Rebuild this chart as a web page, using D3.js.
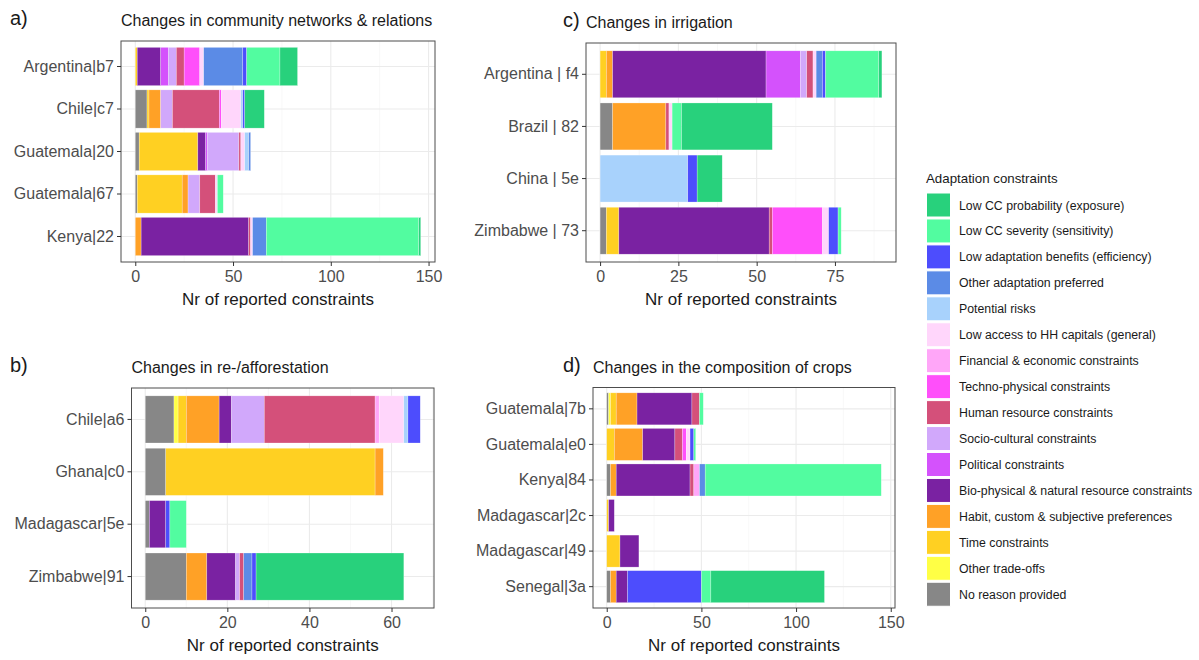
<!DOCTYPE html>
<html><head><meta charset="utf-8">
<script src="https://cdn.jsdelivr.net/npm/d3@7"></script>
<style>body{margin:0;background:#fff}svg{display:block;font-family:"Liberation Sans",Arial,Helvetica,sans-serif}</style>
</head><body><svg id="c" width="1199" height="660"></svg>
<script>
// Stack order (left to right)
const constraints = [
  "No reason provided","Other trade-offs","Time constraints","Habit, custom & subjective preferences",
  "Bio-physical & natural resource constraints","Political constraints","Socio-cultural constraints",
  "Human resource constraints","Techno-physical constraints","Financial & economic constraints",
  "Low access to HH capitals (general)","Potential risks","Other adaptation preferred",
  "Low adaptation benefits (efficiency)","Low CC severity (sensitivity)","Low CC probability (exposure)"];
const constraintColors = ["#878787","#ffff45","#ffd022","#ffa126","#7a22a2","#d452fc","#d1a8fb","#d4507a",
  "#ff4ffa","#ffa6f8","#ffd6fb","#a8d2fc","#5b8be6","#4d4dfd","#52fca0","#28d17c"];

// a) community networks & relations
const panelALabels = ["Argentina|b7","Chile|c7","Guatemala|20","Guatemala|67","Kenya|22"];
const panelAValues = [
  [0,0,1,0,12,4,4,4,8,0,2,0,20,2,17,9],
  [6,0,1,6,0,0,6,24,1,0,10,1,0,1,0,10],
  [2,0,30,0,4,1,16,1,0,0,2,2,1,0,0,0],
  [1,0,23,3,0,0,6,8,0,0,1,0,0,0,3,0],
  [0,0,0,3,55,0,0,1,0,0,1,0,7,0,78,1]];
const panelATicks = [0,50,100,150];

// b) re-/afforestation
const panelBLabels = ["Chile|a6","Ghana|c0","Madagascar|5e","Zimbabwe|91"];
const panelBValues = [
  [7,1,2,8,3,0,8,27,0,1,6,1,0,3,0,0],
  [5,0,51,2,0,0,0,0,0,0,0,0,0,0,0,0],
  [1,0,0,0,4,0,0,0,0,0,0,0,0,1,4,0],
  [10,0,0,5,7,0,1,1,0,0,0,0,2,1,0,36]];
const panelBTicks = [0,20,40,60];

// c) irrigation
const panelCLabels = ["Argentina | f4","Brazil | 82","China | 5e","Zimbabwe | 73"];
const panelCValues = [
  [0,0,2,2,49,11,2,2,0,0,1,0,2,1,17,1],
  [4,0,0,17,0,0,0,1,0,0,1,0,0,0,3,29],
  [0,0,0,0,0,0,0,0,0,0,0,28,0,3,0,8],
  [2,0,4,0,48,0,0,1,16,0,2,0,0,3,1,0]];
const panelCTicks = [0,25,50,75];

// d) composition of crops
const panelDLabels = ["Guatemala|7b","Guatemala|e0","Kenya|84","Madagascar|2c","Madagascar|49","Senegal|3a"];
const panelDValues = [
  [1,1,3,11,29,0,0,4,0,0,0,0,0,0,2,0],
  [0,0,4,15,17,0,0,4,2,0,2,0,0,2,1,0],
  [2,0,0,3,39,0,0,2,0,3,0,0,3,0,93,0],
  [0,0,1,0,3,0,0,0,0,0,0,0,0,0,0,0],
  [0,0,7,0,10,0,0,0,0,0,0,0,0,0,0,0],
  [2,0,0,3,6,0,0,0,0,0,0,0,0,39,5,60]];
const panelDTicks = [0,50,100,150];

const titles = ["Changes in community networks & relations","Changes in re-/afforestation",
  "Changes in irrigation","Changes in the composition of crops"];
const tags = ["a)","b)","c)","d)"];
const legendTitle = "Adaptation constraints";
const xTitle = "Nr of reported constraints";

const svg = d3.select("#c");
const color = d3.scaleOrdinal().domain(constraints).range(constraintColors);
const FONT = "'Liberation Sans',Arial,sans-serif";

function panel(box, labels, values, ticks, title, tag, tagX) {
  const g = svg.append("g");
  const totals = values.map(r => d3.sum(r));
  const mx = d3.max(totals);
  const x = d3.scaleLinear().domain([-0.05*mx, 1.05*mx]).range([box.l, box.r]);
  const y = d3.scaleBand().domain(labels).range([box.t, box.b]).paddingInner(0.1).paddingOuter(0.15);
  // grid
  const step = ticks[1]-ticks[0];
  const minor = [];
  for (let v = ticks[0]-step/2; v <= x.domain()[1]; v += step) if (v >= x.domain()[0]) minor.push(v);
  g.selectAll(".mn").data(minor).join("line").attr("x1",d=>x(d)).attr("x2",d=>x(d))
    .attr("y1",box.t).attr("y2",box.b).attr("stroke","#f4f4f4").attr("stroke-width",0.6);
  g.selectAll(".mj").data(ticks).join("line").attr("x1",d=>x(d)).attr("x2",d=>x(d))
    .attr("y1",box.t).attr("y2",box.b).attr("stroke","#ebebeb").attr("stroke-width",1.1);
  g.selectAll(".my").data(labels).join("line").attr("x1",box.l).attr("x2",box.r)
    .attr("y1",d=>y(d)+y.bandwidth()/2).attr("y2",d=>y(d)+y.bandwidth()/2)
    .attr("stroke","#ebebeb").attr("stroke-width",1.1);
  // bars
  const series = d3.stack().keys(d3.range(constraints.length))(values);
  series.forEach((s, k) => {
    g.append("g").selectAll("rect").data(s.map((d,i)=>({d, i})).filter(o => o.d[1] > o.d[0]))
      .join("rect")
      .attr("x", o => x(o.d[0])).attr("width", o => x(o.d[1]) - x(o.d[0]))
      .attr("y", o => y(labels[o.i])).attr("height", y.bandwidth())
      .attr("fill", color(constraints[k]))
      .attr("stroke","#ffffff").attr("stroke-opacity",0.5).attr("stroke-width",0.5);
  });
  // border
  g.append("rect").attr("x",box.l).attr("y",box.t).attr("width",box.r-box.l).attr("height",box.b-box.t)
    .attr("fill","none").attr("stroke","#4d4d4d").attr("stroke-width",1);
  // axes
  const ax = g.append("g").attr("transform",`translate(0,${box.b})`)
    .call(d3.axisBottom(x).tickValues(ticks).tickSize(4).tickPadding(5));
  ax.select(".domain").remove();
  ax.selectAll("line").attr("stroke","#333");
  ax.selectAll("text").attr("fill","#4d4d4d").style("font-size","16px").style("font-family",FONT);
  const ay = g.append("g").attr("transform",`translate(${box.l},0)`)
    .call(d3.axisLeft(y).tickSize(4).tickPadding(3));
  ay.select(".domain").remove();
  ay.selectAll("line").attr("stroke","#333");
  ay.selectAll("text").attr("fill","#4d4d4d").style("font-size","16px").style("font-family",FONT);
  g.append("text").attr("x",(box.l+box.r)/2).attr("y",box.b+43).attr("text-anchor","middle")
    .attr("fill","#1a1a1a").style("font-size","17px").text(xTitle);
  g.append("text").attr("x",box.l).attr("y",box.t-15).attr("fill","#1a1a1a").style("font-size","16px").text(title);
  g.append("text").attr("x",tagX).attr("y",box.t-16).attr("fill","#1a1a1a").style("font-size","20px").text(tag);
}

panel({l:121,r:435,t:41,b:262}, panelALabels, panelAValues, panelATicks, titles[0], tags[0], 10);
panel({l:131.5,r:434,t:388,b:608}, panelBLabels, panelBValues, panelBTicks, titles[1], tags[1], 10);
panel({l:586,r:896,t:43,b:262}, panelCLabels, panelCValues, panelCTicks, titles[2], tags[2], 563);
panel({l:593,r:895,t:387.5,b:608}, panelDLabels, panelDValues, panelDTicks, titles[3], tags[3], 563);

// legend
const legendOrder = constraints.slice().reverse();
const lg = svg.append("g");
lg.append("text").attr("x",926).attr("y",183).attr("fill","#1a1a1a").style("font-size","13.3px").text(legendTitle);
const li = lg.selectAll(".li").data(legendOrder).join("g")
  .attr("transform",(d,i)=>`translate(926,${192.5 + i*25.95})`);
li.append("rect").attr("x",0.5).attr("y",0.5).attr("width",24).attr("height",24)
  .attr("fill",d=>color(d)).attr("stroke","#ffffff").attr("stroke-width",1);
li.append("text").attr("x",33).attr("y",17).attr("fill","#1a1a1a").style("font-size","12.3px").text(d=>d);
</script></body></html>
